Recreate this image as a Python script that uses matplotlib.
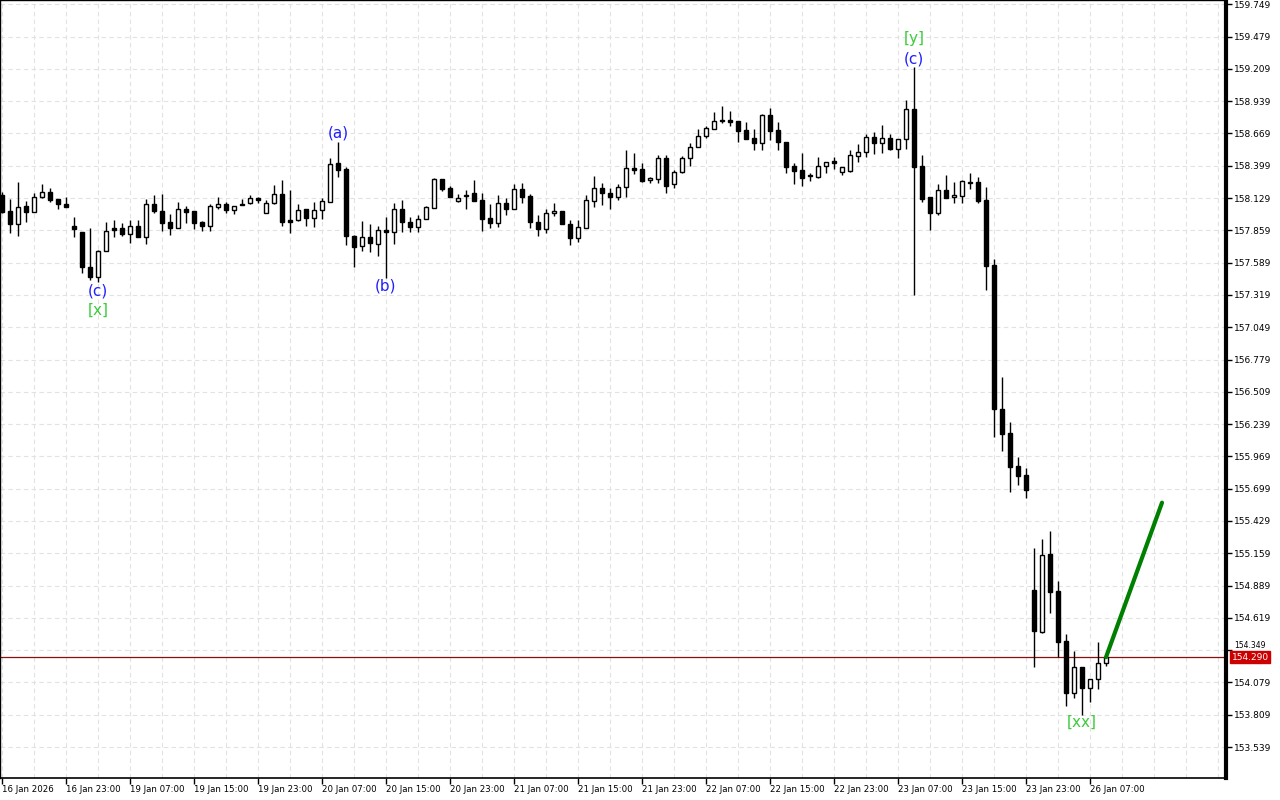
import numpy as np
import matplotlib.pyplot as plt
from matplotlib.ticker import FixedLocator

# hourly candles, 16 Jan 2026 15:00 .. 26 Jan 2026 09:00
opens = [158.154, 158.021, 157.912, 158.063, 158.015, 158.135, 158.177, 158.121, 158.079, 157.895,
         157.843, 157.550, 157.471, 157.686, 157.879, 157.876, 157.826, 157.898, 157.806, 158.079,
         158.023, 157.926, 157.881, 158.035, 158.021, 157.929, 157.895, 158.057, 158.077, 158.029,
         158.079, 158.085, 158.127, 158.002, 158.085, 158.163, 157.946, 157.946, 158.035, 157.965,
         158.025, 158.094, 158.420, 158.369, 157.812, 157.728, 157.801, 157.742, 157.862, 157.843,
         158.035, 157.929, 157.890, 157.951, 158.048, 158.286, 158.211, 158.107, 158.149, 158.169,
         158.113, 157.960, 157.918, 158.085, 158.035, 158.202, 158.146, 157.926, 157.868, 158.004,
         158.021, 157.910, 157.793, 157.881, 158.107, 158.211, 158.174, 158.140, 158.219, 158.378,
         158.372, 158.277, 158.286, 158.461, 158.244, 158.344, 158.461, 158.553, 158.650, 158.706,
         158.779, 158.779, 158.773, 158.698, 158.629, 158.592, 158.823, 158.698, 158.598, 158.397,
         158.364, 158.313, 158.308, 158.400, 158.439, 158.344, 158.358, 158.483, 158.517, 158.637,
         158.592, 158.629, 158.539, 158.620, 158.871, 158.397, 158.135, 158.002, 158.196, 158.135,
         158.149, 158.257, 158.261, 158.113, 157.569, 156.363, 156.162, 155.889, 155.813, 154.852,
         154.503, 155.153, 154.844, 154.426, 153.988, 154.206, 154.030, 154.105, 154.239]
highs = [158.180, 158.121, 158.263, 158.104, 158.171, 158.247, 158.213, 158.121, 158.140, 157.973,
         157.843, 157.876, 157.695, 157.931, 157.946, 157.918, 157.946, 157.946, 158.119, 158.154,
         158.163, 157.993, 158.099, 158.063, 158.021, 157.937, 158.077, 158.135, 158.099, 158.065,
         158.119, 158.154, 158.140, 158.113, 158.238, 158.280, 158.196, 158.079, 158.035, 158.099,
         158.127, 158.466, 158.600, 158.391, 157.820, 157.937, 157.912, 157.895, 157.968, 158.085,
         158.113, 157.973, 157.987, 158.063, 158.299, 158.286, 158.230, 158.163, 158.196, 158.280,
         158.169, 158.079, 158.154, 158.127, 158.247, 158.257, 158.163, 157.987, 158.038, 158.085,
         158.021, 157.946, 157.946, 158.154, 158.313, 158.257, 158.211, 158.247, 158.531, 158.503,
         158.425, 158.303, 158.489, 158.489, 158.364, 158.481, 158.587, 158.704, 158.732, 158.846,
         158.899, 158.857, 158.776, 158.762, 158.704, 158.832, 158.879, 158.762, 158.598, 158.425,
         158.508, 158.336, 158.470, 158.433, 158.475, 158.391, 158.531, 158.581, 158.665, 158.679,
         158.740, 158.662, 158.620, 158.949, 159.227, 158.489, 158.135, 158.247, 158.322, 158.261,
         158.280, 158.336, 158.303, 158.219, 157.617, 156.630, 156.254, 155.966, 155.869, 155.201,
         155.276, 155.345, 154.927, 154.482, 154.342, 154.206, 154.105, 154.415, 154.290]
lows = [158.000, 157.837, 157.812, 157.931, 158.012, 158.129, 158.099, 158.035, 158.052, 157.801,
        157.500, 157.444, 157.430, 157.686, 157.806, 157.814, 157.751, 157.801, 157.742, 158.002,
        157.854, 157.820, 157.876, 157.918, 157.870, 157.856, 157.856, 158.035, 158.007, 157.996,
        158.068, 158.079, 158.085, 158.002, 158.079, 157.895, 157.839, 157.940, 157.895, 157.890,
        157.950, 158.094, 158.303, 157.737, 157.555, 157.689, 157.681, 157.645, 157.463, 157.742,
        157.848, 157.848, 157.848, 157.951, 158.043, 158.188, 158.135, 158.099, 158.035, 158.107,
        157.856, 157.881, 157.890, 157.987, 158.035, 158.085, 157.876, 157.812, 157.834, 157.979,
        157.910, 157.737, 157.764, 157.876, 158.057, 158.071, 158.035, 158.113, 158.135, 158.328,
        158.263, 158.257, 158.257, 158.174, 158.211, 158.336, 158.397, 158.553, 158.629, 158.704,
        158.754, 158.732, 158.600, 158.620, 158.531, 158.531, 158.614, 158.531, 158.341, 158.247,
        158.230, 158.274, 158.294, 158.336, 158.372, 158.322, 158.349, 158.433, 158.475, 158.497,
        158.503, 158.531, 158.466, 158.539, 157.318, 158.099, 157.862, 157.987, 158.132, 158.090,
        158.090, 158.202, 158.090, 157.360, 156.129, 156.017, 155.674, 155.730, 155.619, 154.206,
        154.490, 154.662, 154.294, 153.885, 153.946, 153.807, 153.918, 154.024, 154.219]
closes = [158.012, 157.912, 158.057, 158.015, 158.135, 158.177, 158.113, 158.077, 158.052, 157.873,
          157.550, 157.471, 157.686, 157.856, 157.862, 157.826, 157.898, 157.806, 158.079, 158.021,
          157.923, 157.881, 158.035, 158.015, 157.918, 157.895, 158.060, 158.077, 158.029, 158.065,
          158.068, 158.127, 158.113, 158.090, 158.160, 157.931, 157.931, 158.029, 157.965, 158.029,
          158.104, 158.411, 158.364, 157.814, 157.722, 157.806, 157.751, 157.862, 157.843, 158.035,
          157.926, 157.890, 157.954, 158.052, 158.286, 158.202, 158.135, 158.132, 158.150, 158.107,
          157.954, 157.918, 158.085, 158.035, 158.202, 158.140, 157.926, 157.868, 158.002, 158.021,
          157.910, 157.793, 157.884, 158.113, 158.211, 158.169, 158.140, 158.219, 158.378, 158.364,
          158.274, 158.294, 158.461, 158.232, 158.344, 158.461, 158.553, 158.648, 158.712, 158.776,
          158.777, 158.767, 158.692, 158.625, 158.592, 158.823, 158.692, 158.600, 158.391, 158.358,
          158.299, 158.312, 158.400, 158.433, 158.420, 158.391, 158.487, 158.517, 158.637, 158.592,
          158.629, 158.539, 158.620, 158.871, 158.385, 158.121, 158.002, 158.196, 158.132, 158.154,
          158.272, 158.259, 158.104, 157.563, 156.363, 156.156, 155.883, 155.808, 155.688, 154.512,
          155.142, 154.838, 154.420, 153.988, 154.206, 154.030, 154.105, 154.239, 154.290]

tick_bars = [0, 8, 16, 24, 32, 40, 48, 56, 64, 72, 80, 88, 96, 104, 112, 120, 128, 136]
tick_labels = ['16 Jan 2026', '16 Jan 23:00', '19 Jan 07:00', '19 Jan 15:00', '19 Jan 23:00',
               '20 Jan 07:00', '20 Jan 15:00', '20 Jan 23:00', '21 Jan 07:00', '21 Jan 15:00',
               '21 Jan 23:00', '22 Jan 07:00', '22 Jan 15:00', '22 Jan 23:00', '23 Jan 07:00',
               '23 Jan 15:00', '23 Jan 23:00', '26 Jan 07:00']
# 154.349 is hidden behind the current-price tag, as in the terminal
price_ticks = [159.749, 159.479, 159.209, 158.939, 158.669, 158.399, 158.129, 157.859,
               157.589, 157.319, 157.049, 156.779, 156.509, 156.239, 155.969, 155.699,
               155.429, 155.159, 154.889, 154.619, 154.349, 154.079, 153.809, 153.539]
last_price = 154.290

# wave labels: (bar, price, text, colour)
wave_labels = [(12, 157.352, '(c)', 'blue'), (12, 157.193, '[x]', 'green'),
               (42, 158.673, '(a)', 'blue'), (48, 157.394, '(b)', 'blue'),
               (114, 159.459, '[y]', 'green'), (114, 159.292, '(c)', 'blue'),
               (135, 153.748, '[xx]', 'green')]
forecast_bars = [138, 145]
forecast_prices = [154.290, 155.582]

blue = '#1f1fff'
lgreen = '#3ccc3c'

fig = plt.figure(figsize=(12.8, 8), dpi=100)
ax = fig.add_axes([0, 22 / 800, 1226 / 1280, 778 / 800])

o = np.array(opens)
h = np.array(highs)
l = np.array(lows)
c = np.array(closes)
x = np.arange(len(o))
bull = c >= o

ax.vlines(x, l, h, color='black', linewidth=1, zorder=2)
body_lo = np.minimum(o, c)
body_hi = np.maximum(o, c)
body_h = np.maximum(body_hi - body_lo, 0.006)
ax.bar(x[bull], body_h[bull], bottom=body_lo[bull], width=0.6,
       facecolor='white', edgecolor='black', linewidth=1, zorder=3)
ax.bar(x[~bull], body_h[~bull], bottom=body_lo[~bull], width=0.6,
       facecolor='black', edgecolor='black', linewidth=1, zorder=3)

ax.axhline(last_price, color='#8a1010', linewidth=0.9, zorder=1)
ax.plot(forecast_bars, forecast_prices, color='#008000', linewidth=3, zorder=4,
        solid_capstyle='round')

for bx, py, txt, col in wave_labels:
    ax.text(bx, py, txt, color=blue if col == 'blue' else lgreen, fontsize=11,
            ha='center', va='center', family='DejaVu Sans', zorder=5)

ax.set_xlim(-0.25, 153.0)
ax.set_ylim(153.280, 159.785)

ax.yaxis.tick_right()
ax.set_yticks(price_ticks)
ax.set_yticklabels([f'{p:.3f}' for p in price_ticks], fontsize=6.5, family='DejaVu Sans')
ax.tick_params(axis='y', direction='out', length=4, width=1, pad=2)

ax.set_xticks(tick_bars)
ax.set_xticklabels(tick_labels, fontsize=6.2, family='DejaVu Sans', ha='left')
ax.tick_params(axis='x', direction='out', length=4, width=1, pad=1)
ax.xaxis.set_minor_locator(FixedLocator(np.arange(0, 154, 4)))
ax.tick_params(axis='x', which='minor', length=0)

ax.grid(True, which='both', axis='x', color='#e2e2e2', linestyle=(0, (4, 3)), linewidth=0.8)
ax.grid(True, which='major', axis='y', color='#e2e2e2', linestyle=(0, (4, 3)), linewidth=0.8)
ax.set_axisbelow(True)

for side in ['left', 'top']:
    ax.spines[side].set_linewidth(1)
ax.spines['right'].set_linewidth(3)
ax.spines['bottom'].set_linewidth(1.2)

# clip the 154.349 label so only its upper part shows above the price tag
for lab in ax.get_yticklabels():
    if lab.get_text() == '154.349':
        lab.set_fontsize(5.5)
        lab.set_va('bottom')

tag = ax.annotate(f'{last_price:.3f}', xy=(1.0, last_price), xycoords=('axes fraction', 'data'),
                  xytext=(4, 0), textcoords='offset points', fontsize=6.5, color='white',
                  va='center', ha='left', annotation_clip=False, zorder=10,
                  bbox=dict(boxstyle='square,pad=0.15', facecolor='#cc0000', edgecolor='#cc0000'))

fig.savefig('out.png', dpi=100)
